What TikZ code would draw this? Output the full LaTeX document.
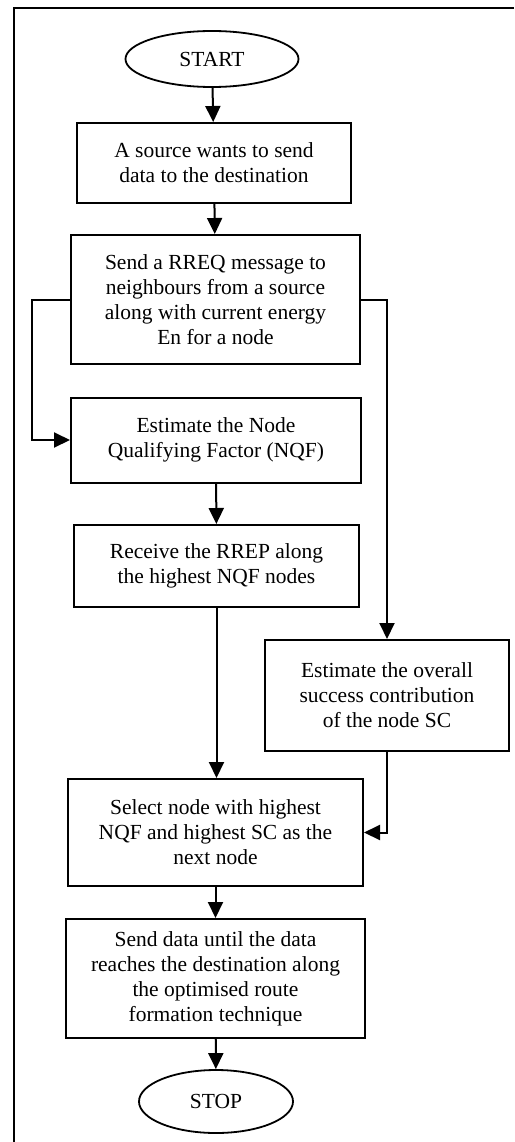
\documentclass[tikz,border=0pt]{standalone}
\usepackage{fontspec}
\setmainfont{Liberation Serif}
\usepackage{tikz}
\usetikzlibrary{shapes.geometric, arrows.meta, positioning}

\begin{document}
\begin{tikzpicture}[
  x=1pt, y=-1pt,
  every node/.style={font=\fontsize{21.5}{25}\selectfont, align=center, inner sep=0pt},
  stepbox/.style={rectangle, draw=black, line width=2pt},
  terminal/.style={ellipse, draw=black, line width=1.8pt},
  flow/.style={line width=2pt, -{Triangle[length=16pt, width=15pt]}},
  framebox/.style={line width=2pt}
]
  \useasboundingbox (0,0) rectangle (514,1142);
  \draw[framebox] (514,8.5) -- (13.5,8.5) -- (13.5,1142);

  \node[terminal, minimum width=173pt, minimum height=56pt] (start) at (212,59) {START};
  \node[stepbox, minimum width=274pt, minimum height=80pt] (source) at (214,163)
    {A source wants to send\\data to the destination};
  \node[stepbox, minimum width=289pt, minimum height=129pt] (rreq) at (215.5,299.5)
    {Send a RREQ message to\\neighbours from a source\\along with current energy\\En for a node};
  \node[stepbox, minimum width=290pt, minimum height=85pt] (nqf) at (216,440)
    {Estimate the Node\\Qualifying Factor (NQF)};
  \node[stepbox, minimum width=285pt, minimum height=82pt] (rrep) at (216.5,566)
    {Receive the RREP along\\the highest NQF nodes};
  \node[stepbox, minimum width=244pt, minimum height=111pt] (sc) at (387,695.5)
    {Estimate the overall\\success contribution\\of the node SC};
  \node[stepbox, minimum width=295pt, minimum height=107pt] (select) at (215.5,832.5)
    {Select node with highest\\NQF and highest SC as the\\next node};
  \node[stepbox, minimum width=299pt, minimum height=119pt] (senddata) at (215.5,978.5)
    {Send data until the data\\reaches the destination along\\the optimised route\\formation technique};
  \node[terminal, minimum width=154pt, minimum height=63pt] (stop) at (216,1101.5) {STOP};

  \draw[flow] (start) -- (source);
  \draw[flow] (source) -- (rreq);
  \draw[flow] (rreq.west) -- ++(-38,0) |- (nqf.west);
  \draw[flow] (rreq.east) -| (sc.north);
  \draw[flow] (nqf) -- (rrep);
  \draw[flow] (rrep.south) -- (rrep.south |- select.north);
  \draw[flow] (sc.south) |- (select.east);
  \draw[flow] (select) -- (senddata);
  \draw[flow] (senddata) -- (stop);
\end{tikzpicture}
\end{document}
